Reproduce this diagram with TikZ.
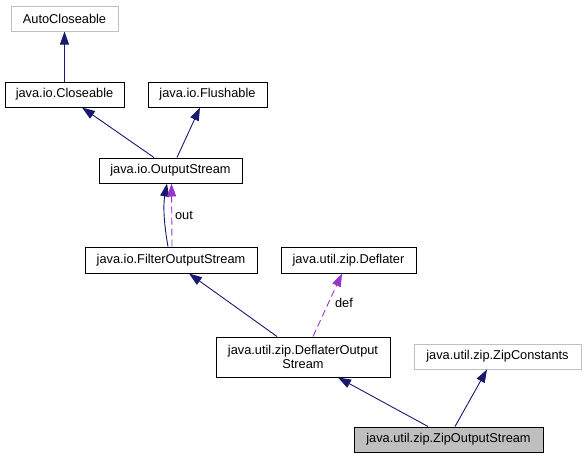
\documentclass[tikz,border=0pt]{standalone}
\usepackage{fontspec}
\setmainfont{Liberation Sans}
\usetikzlibrary{arrows.meta}
\definecolor{edgeblue}{HTML}{191970}
\definecolor{edgepurple}{HTML}{9A32CD}
\definecolor{boxgray}{HTML}{BFBFBF}

\begin{document}
\begin{tikzpicture}[x=1pt,y=-1pt,cls/.style={draw,line width=1pt,fill=white,inner sep=0pt,minimum height=25pt,align=center,font=\fontsize{12.8}{14.5}\selectfont},ext/.style={cls,draw=boxgray},focus/.style={cls,fill=boxgray},inherit/.style={draw=edgeblue,line width=0.9pt,-{Triangle[length=13pt,width=9pt]}},usage/.style={draw=edgepurple,line width=0.9pt,dash pattern=on 7pt off 4pt,-{Triangle[length=13pt,width=9pt]}},lbl/.style={font=\fontsize{12.8}{14.5}\selectfont,inner sep=0pt}]
\useasboundingbox (0,0) rectangle (587,459);
\node[ext,minimum width=107pt] (auto) at (64.5,18.5) {AutoCloseable};
\node[cls,minimum width=119pt] (closeable) at (64.5,94.5) {java.io.Closeable};
\node[cls,minimum width=119pt] (flushable) at (207.5,94.5) {java.io.Flushable};
\node[cls,minimum width=143pt] (outs) at (170.5,170.5) {java.io.OutputStream};
\node[cls,minimum width=172pt,minimum height=26pt] (filter) at (171,260) {java.io.FilterOutputStream};
\node[cls,minimum width=135pt,minimum height=26pt] (deflater) at (348.5,260) {java.util.zip.Deflater};
\node[cls,minimum width=174pt,minimum height=40pt] (deflout) at (303,357) {java.util.zip.DeflaterOutput\\Stream};
\node[ext,minimum width=167pt] (zipconst) at (497.5,356.5) {java.util.zip.ZipConstants};
\node[focus,minimum width=189pt] (zipout) at (448.5,439.5) {java.util.zip.ZipOutputStream};
\draw[inherit] (closeable.north) -- (auto.south);
\draw[inherit] ([xshift=-16.5pt]outs.north) -- ([xshift=17.5pt]closeable.south);
\draw[inherit] ([xshift=6.5pt]outs.north) -- ([xshift=-7.5pt]flushable.south);
\draw[inherit] ([xshift=-3pt]filter.north) .. controls +(-4,-22) and +(-4,22) .. ([xshift=-3.5pt]outs.south);
\draw[usage] ([xshift=1pt]filter.north) -- ([xshift=1pt]outs.south);
\node[lbl] (outlbl) at (184,215) {out};
\draw[inherit] ([xshift=-26pt]deflout.north) -- ([xshift=18pt]filter.south);
\draw[usage] ([xshift=10pt]deflout.north) -- ([xshift=-6.5pt]deflater.south);
\node[lbl] (deflbl) at (344,303) {def};
\draw[inherit] ([xshift=-20.5pt]zipout.north) -- ([xshift=35pt]deflout.south);
\draw[inherit] ([xshift=6.5pt]zipout.north) -- ([xshift=-10.5pt]zipconst.south);
\end{tikzpicture}
\end{document}
